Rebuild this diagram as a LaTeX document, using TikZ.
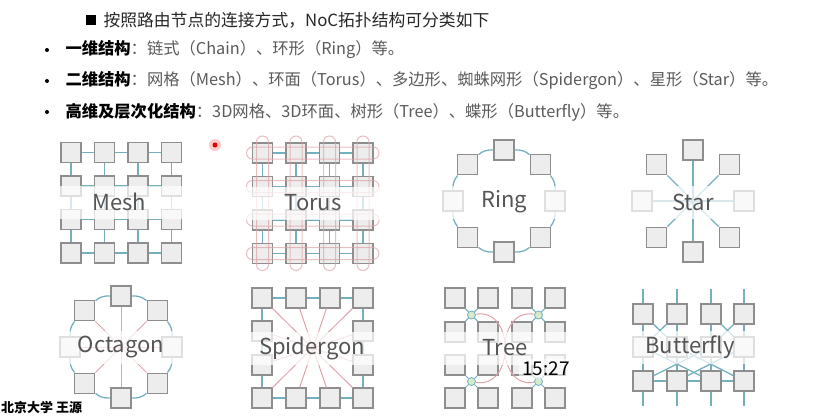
\documentclass[tikz,border=0pt]{standalone}
\usepackage{fontspec}
\setmainfont{Noto Sans CJK SC}
\usetikzlibrary{calc}

\definecolor{sqfill}{HTML}{EDEDED}
\definecolor{sqdraw}{HTML}{8E8E8E}
\definecolor{linkblue}{HTML}{74AFBE}
\definecolor{linkred}{HTML}{E0A2A7}
\definecolor{labelgray}{HTML}{555555}
\definecolor{itemgray}{HTML}{5A5A5A}
\definecolor{hubgreen}{HTML}{D6EBCB}

\begin{document}
\begin{tikzpicture}[x=1pt, y=-1pt,
        box/.style = {draw=sqdraw, fill=sqfill, line width=1.1pt,
                      minimum size=20pt, inner sep=0pt},
        hub/.style = {circle, draw=linkblue, fill=hubgreen, line width=.8pt,
                      minimum size=8pt, inner sep=0pt},
      chord/.style = {draw=linkred, line width=1pt},
       wrap/.style = {draw=linkred, line width=1pt, rounded corners=6pt},
       band/.style = {fill=white, fill opacity=.72, text opacity=1,
                      text=labelgray, font=\fontsize{22}{22}\selectfont,
                      minimum width=#1, minimum height=33pt, inner sep=0pt},
       item/.style = {anchor=west, text=itemgray,
                      font=\fontsize{16.3}{18}\selectfont},
every edge/.style = {draw=linkblue, line width=1.3pt}
                        ]
    \useasboundingbox (0,0) rectangle (820,416);
    \clip (0,0) rectangle (820,416);

    % Heading and the three bullet lines
    \node[fill=black, minimum size=10pt, inner sep=0pt] (hdsq) at (91,20) {};
    \node[anchor=west, font=\fontsize{16.8}{20}\selectfont, text=black!85] (hd) at (100,20)
        {按照路由节点的连接方式，NoC拓扑结构可分类如下};
    \foreach \k/\y in {1/50, 2/81, 3/112}
        \node[circle, fill=black, minimum size=4pt, inner sep=0pt] (dot\k) at (47,\y) {};
    \node[item] (one) at (62,50)
        {\textbf{\color{black}一维结构}：链式（Chain）、环形（Ring）等。};
    \node[item] (two) at (62,81)
        {\textbf{\color{black}二维结构}：网格（Mesh）、环面（Torus）、多边形、蜘蛛网形（Spidergon）、星形（Star）等。};
    \node[item] (three) at (62,112)
        {\textbf{\color{black}高维及层次化结构}：3D网格、3D环面、树形（Tree）、蝶形（Butterfly）等。};

    % Mesh
    \foreach \i in {1,...,4}
        \foreach \j in {1,...,4}
            \node[box] (m\i\j) at ({71+33.5*(\i-1)}, {152.5+33.5*(\j-1)}) {};
    \foreach \i in {1,...,4}
        \foreach \j/\k in {1/2, 2/3, 3/4} {
            \path (m\i\j) edge (m\i\k);
            \path (m\j\i) edge (m\k\i);
        }
    \node[band=134pt] (meshlbl) at (119,202) {Mesh};

    % Torus
    \foreach \i in {1,...,4}
        \foreach \j in {1,...,4}
            \node[box] (t\i\j) at ({262.5+33.5*(\i-1)}, {153+33.5*(\j-1)}) {};
    \foreach \i in {1,...,4}
        \foreach \j/\k in {1/2, 2/3, 3/4} {
            \path (t\i\j) edge (t\i\k);
            \path (t\j\i) edge (t\k\i);
        }
    \foreach \j in {1,...,4}
        \draw[wrap, opacity=.7] ($(t1\j.center)+(-16,-6)$) rectangle ($(t4\j.center)+(16,6)$);
    \foreach \i in {1,...,4}
        \draw[wrap, opacity=.7] ($(t\i1.center)+(-6,-17)$) rectangle ($(t\i4.center)+(6,17)$);
    \node[band=140pt] (toruslbl) at (313,203) {Torus};

    % Ring
    \coordinate (ringc) at (504,201);
    \foreach \k in {1,...,8}
        \node[box] (r\k) at ($(ringc)+({45*(\k-1)}:51)$) {};
    \foreach \k [remember=\k as \p (initially 8)] in {1,...,8}
        \path (r\p) edge[bend left=22] (r\k);
    \node[band=126pt] (ringlbl) at (504,202) {Ring};

    % Star
    \coordinate (starc) at (693,201);
    \foreach \k in {1,...,8}
        \node[box] (st\k) at ($(starc)+({45*(\k-1)}:51)$) {};
    \foreach \k in {1,...,8}
        \path (starc) edge (st\k);
    \node[band=126pt] (starlbl) at (693,202) {Star};

    % Octagon
    \coordinate (octc) at (121,347);
    \foreach \k in {1,...,8}
        \node[box] (o\k) at ($(octc)+({45*(\k-1)}:51)$) {};
    \foreach \k [remember=\k as \p (initially 8)] in {1,...,8}
        \path (o\p) edge[bend left=22] (o\k);
    \foreach \k/\n in {1/5, 2/6, 3/7, 4/8}
        \path (o\k) edge[chord] (o\n);
    \node[band=126pt] (octlbl) at (121,347) {Octagon};

    % Spidergon
    \foreach \k/\x/\y in {1/262/298, 2/296/298, 3/330/298, 4/363/298,
                          5/363/331, 6/363/365, 7/363/398, 8/330/398,
                          9/296/398, 10/262/398, 11/262/365, 12/262/331}
        \node[box] (sp\k) at (\x,\y) {};
    \foreach \k [remember=\k as \p (initially 12)] in {1,...,12}
        \path (sp\p) edge (sp\k);
    \foreach \k/\n in {1/7, 2/8, 3/9, 4/10, 5/11, 6/12}
        \path (sp\k) edge[chord] (sp\n);
    \node[band=132pt] (spiderlbl) at (312,348) {Spidergon};

    % Tree
    \foreach \i/\x in {1/455, 2/488, 3/522, 4/555}
        \foreach \j/\y in {1/298, 2/332, 3/365, 4/398}
            \node[box] (tr\i\j) at (\x,\y) {};
    \node[hub] (hub1) at (471.5,315) {};
    \node[hub] (hub2) at (538.5,315) {};
    \node[hub] (hub3) at (471.5,381.5) {};
    \node[hub] (hub4) at (538.5,381.5) {};
    \foreach \h/\a/\b/\c/\d in {1/1/2/1/2, 2/3/4/1/2, 3/1/2/3/4, 4/3/4/3/4}
        \foreach \x in {\a,\b}
            \foreach \y in {\c,\d}
                \path (hub\h) edge[line width=1pt] (tr\x\y);
    \path (hub1) edge[chord, out=10, in=-10, looseness=1.5] (hub3);
    \path (hub2) edge[chord, out=170, in=190, looseness=1.5] (hub4);
    \node[band=130pt] (treelbl) at (505,348) {Tree};

    % Butterfly
    \foreach \c/\x in {1/643, 2/677, 3/711, 4/744} {
        \coordinate (bt\c) at (\x,289);
        \coordinate (bb\c) at (\x,406);
        \foreach \r/\y in {1/314, 2/347, 3/381}
            \node[box] (b\r\c) at (\x,\y) {};
    }
    \foreach \c in {1,...,4} {
        \path (bt\c) edge (b1\c);
        \path (b1\c) edge (b2\c);
        \path (b2\c) edge (b3\c);
        \path (b3\c) edge (bb\c);
    }
    \path (b11) edge (b22);
    \path (b12) edge (b21);
    \path (b13) edge (b24);
    \path (b14) edge (b23);
    \path (b21) edge (b33);
    \path (b23) edge (b31);
    \path (b22) edge (b34);
    \path (b24) edge (b32);
    \path (b31) edge (b32);
    \path (b32) edge (b33);
    \path (b33) edge (b34);
    \node[band=130pt] (butterlbl) at (690,347) {Butterfly};

    % video overlay, pointer and footer
    \node[fill=white, fill opacity=.6, text opacity=1,
          font=\fontsize{19}{19}\selectfont] (clock) at (546,369) {15:27};
    \coordinate (laser) at (215,145);
    \fill[red!70, opacity=.3] (laser) circle (6);
    \fill[red!85!black] (laser) circle (2.5);
    \node[anchor=west, inner sep=1pt, font=\bfseries\fontsize{13}{13}\selectfont] (inst) at (0,408) {北京大学 王源};

\end{tikzpicture}
\end{document}
